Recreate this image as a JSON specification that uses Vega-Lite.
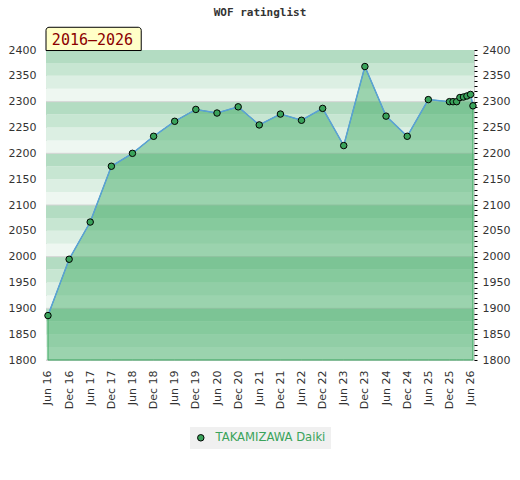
{
  "$schema": "https://vega.github.io/schema/vega-lite/v6.json",
  "description": "WOF ratinglist for TAKAMIZAWA Daiki, 2016-2026.",
  "autosize": {"type": "none"},
  "padding": {"left": 46, "top": 50, "right": 46, "bottom": 120},
  "width": 428,
  "height": 310,
  "title": {
    "text": "WOF ratinglist",
    "font": "DejaVu Sans Mono",
    "fontSize": 11,
    "fontWeight": "bold",
    "color": "#333",
    "offset": 9
  },
  "datasets": {
    "bands": [
      {"lo": 1800, "hi": 1825, "shade": 3}, {"lo": 1825, "hi": 1850, "shade": 2},
      {"lo": 1850, "hi": 1875, "shade": 1}, {"lo": 1875, "hi": 1900, "shade": 0},
      {"lo": 1900, "hi": 1925, "shade": 3}, {"lo": 1925, "hi": 1950, "shade": 2},
      {"lo": 1950, "hi": 1975, "shade": 1}, {"lo": 1975, "hi": 2000, "shade": 0},
      {"lo": 2000, "hi": 2025, "shade": 3}, {"lo": 2025, "hi": 2050, "shade": 2},
      {"lo": 2050, "hi": 2075, "shade": 1}, {"lo": 2075, "hi": 2100, "shade": 0},
      {"lo": 2100, "hi": 2125, "shade": 3}, {"lo": 2125, "hi": 2150, "shade": 2},
      {"lo": 2150, "hi": 2175, "shade": 1}, {"lo": 2175, "hi": 2200, "shade": 0},
      {"lo": 2200, "hi": 2225, "shade": 3}, {"lo": 2225, "hi": 2250, "shade": 2},
      {"lo": 2250, "hi": 2275, "shade": 1}, {"lo": 2275, "hi": 2300, "shade": 0},
      {"lo": 2300, "hi": 2325, "shade": 3}, {"lo": 2325, "hi": 2350, "shade": 2},
      {"lo": 2350, "hi": 2375, "shade": 1}, {"lo": 2375, "hi": 2400, "shade": 0}
    ],
    "ratings": [
      {"date": "2016-06-01", "rating": 1886, "player": "TAKAMIZAWA Daiki"},
      {"date": "2016-12-01", "rating": 1995, "player": "TAKAMIZAWA Daiki"},
      {"date": "2017-06-01", "rating": 2067, "player": "TAKAMIZAWA Daiki"},
      {"date": "2017-12-01", "rating": 2175, "player": "TAKAMIZAWA Daiki"},
      {"date": "2018-06-01", "rating": 2200, "player": "TAKAMIZAWA Daiki"},
      {"date": "2018-12-01", "rating": 2233, "player": "TAKAMIZAWA Daiki"},
      {"date": "2019-06-01", "rating": 2262, "player": "TAKAMIZAWA Daiki"},
      {"date": "2019-12-01", "rating": 2285, "player": "TAKAMIZAWA Daiki"},
      {"date": "2020-06-01", "rating": 2278, "player": "TAKAMIZAWA Daiki"},
      {"date": "2020-12-01", "rating": 2290, "player": "TAKAMIZAWA Daiki"},
      {"date": "2021-06-01", "rating": 2255, "player": "TAKAMIZAWA Daiki"},
      {"date": "2021-12-01", "rating": 2276, "player": "TAKAMIZAWA Daiki"},
      {"date": "2022-06-01", "rating": 2264, "player": "TAKAMIZAWA Daiki"},
      {"date": "2022-12-01", "rating": 2287, "player": "TAKAMIZAWA Daiki"},
      {"date": "2023-06-01", "rating": 2215, "player": "TAKAMIZAWA Daiki"},
      {"date": "2023-12-01", "rating": 2368, "player": "TAKAMIZAWA Daiki"},
      {"date": "2024-06-01", "rating": 2272, "player": "TAKAMIZAWA Daiki"},
      {"date": "2024-12-01", "rating": 2233, "player": "TAKAMIZAWA Daiki"},
      {"date": "2025-06-01", "rating": 2304, "player": "TAKAMIZAWA Daiki"},
      {"date": "2025-12-01", "rating": 2300, "player": "TAKAMIZAWA Daiki"},
      {"date": "2026-01-01", "rating": 2300, "player": "TAKAMIZAWA Daiki"},
      {"date": "2026-02-01", "rating": 2300, "player": "TAKAMIZAWA Daiki"},
      {"date": "2026-03-01", "rating": 2308, "player": "TAKAMIZAWA Daiki"},
      {"date": "2026-04-01", "rating": 2309, "player": "TAKAMIZAWA Daiki"},
      {"date": "2026-05-01", "rating": 2311, "player": "TAKAMIZAWA Daiki"},
      {"date": "2026-06-01", "rating": 2314, "player": "TAKAMIZAWA Daiki"},
      {"date": "2026-06-22", "rating": 2292, "player": "TAKAMIZAWA Daiki"}
    ],
    "span": [{"label": "2016–2026"}]
  },
  "resolve": {"axis": {"x": "independent", "y": "independent"}, "scale": {"color": "independent"}},
  "layer": [
    {
      "data": {"name": "bands"},
      "mark": {"type": "rect"},
      "encoding": {
        "y": {
          "field": "lo",
          "type": "quantitative",
          "scale": {"domain": [1800, 2400], "nice": false, "zero": false},
          "axis": {
            "orient": "left",
            "values": [1800, 1850, 1900, 1950, 2000, 2050, 2100, 2150, 2200, 2250, 2300, 2350, 2400],
            "format": "d",
            "title": null,
            "ticks": false,
            "domain": false,
            "grid": false,
            "labelPadding": 10,
            "labelFont": "DejaVu Sans",
            "labelFontSize": 11,
            "labelColor": "#333"
          }
        },
        "y2": {"field": "hi"},
        "color": {
          "field": "shade",
          "type": "ordinal",
          "scale": {"domain": [0, 1, 2, 3], "range": ["#b3dcc2", "#c7e6d2", "#dcefe3", "#eef7f1"]},
          "legend": null
        }
      }
    },
    {
      "data": {"name": "bands"},
      "transform": [{"filter": "datum.shade === 3"}],
      "mark": {"type": "rule", "color": "#d4d4d4", "strokeWidth": 1},
      "encoding": {
        "y": {"field": "lo", "type": "quantitative", "axis": null}
      }
    },
    {
      "data": {"name": "ratings"},
      "mark": {"type": "area", "color": "#3da962", "fillOpacity": 0.47, "stroke": "#3da962", "strokeWidth": 1},
      "encoding": {
        "x": {
          "field": "date",
          "type": "temporal",
          "scale": {"domain": [{"year": 2016, "month": 5, "date": 15, "utc": true}, {"year": 2026, "month": 7, "date": 1, "utc": true}]},
          "axis": {
            "values": [
              1464739200000, 1480550400000, 1496275200000, 1512086400000,
              1527811200000, 1543622400000, 1559347200000, 1575158400000,
              1590969600000, 1606780800000, 1622505600000, 1638316800000,
              1654041600000, 1669852800000, 1685577600000, 1701388800000,
              1717200000000, 1733011200000, 1748736000000, 1764547200000,
              1780272000000
            ],
            "format": "%b %y",
            "labelAngle": 270,
            "labelPadding": 10,
            "labelOverlap": false,
            "labelFont": "DejaVu Sans",
            "labelFontSize": 11,
            "labelColor": "#333",
            "tickSize": 0,
            "domain": false,
            "grid": false,
            "title": null
          }
        },
        "y": {"field": "rating", "type": "quantitative", "axis": null},
        "y2": {"datum": 1800}
      }
    },
    {
      "data": {"name": "ratings"},
      "mark": {"type": "line", "color": "#5aa0d8", "strokeWidth": 1.5},
      "encoding": {
        "x": {"field": "date", "type": "temporal", "axis": null},
        "y": {"field": "rating", "type": "quantitative", "axis": null}
      }
    },
    {
      "data": {"name": "ratings"},
      "mark": {"type": "point", "shape": "circle", "filled": true, "size": 42, "stroke": "black", "strokeWidth": 1, "opacity": 1},
      "encoding": {
        "x": {"field": "date", "type": "temporal", "axis": null},
        "y": {
          "field": "rating",
          "type": "quantitative",
          "axis": {
            "orient": "right",
            "values": [1800, 1810, 1820, 1830, 1840, 1850, 1860, 1870, 1880, 1890,
                       1900, 1910, 1920, 1930, 1940, 1950, 1960, 1970, 1980, 1990,
                       2000, 2010, 2020, 2030, 2040, 2050, 2060, 2070, 2080, 2090,
                       2100, 2110, 2120, 2130, 2140, 2150, 2160, 2170, 2180, 2190,
                       2200, 2210, 2220, 2230, 2240, 2250, 2260, 2270, 2280, 2290,
                       2300, 2310, 2320, 2330, 2340, 2350, 2360, 2370, 2380, 2390, 2400],
            "format": "d",
            "labelExpr": "datum.value % 50 === 0 ? datum.label : ''",
            "labelOverlap": false,
            "title": null,
            "domain": false,
            "grid": false,
            "tickSize": 3,
            "tickColor": "black",
            "labelPadding": 5,
            "labelFont": "DejaVu Sans",
            "labelFontSize": 11,
            "labelColor": "#333"
          }
        },
        "color": {
          "field": "player",
          "type": "nominal",
          "scale": {"range": ["#3aa35b"]},
          "legend": {
            "orient": "bottom",
            "title": null,
            "fillColor": "#f0f0f0",
            "padding": 5,
            "symbolType": "circle",
            "symbolSize": 42,
            "symbolStrokeColor": "black",
            "symbolStrokeWidth": 1,
            "labelColor": "#3aa35b",
            "labelFont": "DejaVu Sans",
            "labelFontSize": 11.6,
            "labelOffset": 9,
            "offset": 18
          }
        }
      }
    },
    {
      "data": {"name": "span"},
      "mark": {"type": "rect", "fill": "#ffffc8", "stroke": "black", "strokeWidth": 1, "cornerRadiusTopLeft": 3, "cornerRadiusTopRight": 3},
      "encoding": {
        "x": {"datum": {"year": 2016, "month": 5, "date": 15, "utc": true}, "type": "temporal", "axis": null},
        "x2": {"datum": {"year": 2018, "month": 8, "date": 16, "utc": true}},
        "y": {"datum": 2444, "type": "quantitative", "axis": null},
        "y2": {"datum": 2399}
      }
    },
    {
      "data": {"name": "span"},
      "mark": {"type": "text", "font": "DejaVu Sans Mono", "fontSize": 15, "color": "#8b0000", "align": "center", "baseline": "middle"},
      "encoding": {
        "x": {"datum": {"year": 2017, "month": 6, "date": 21, "utc": true}, "type": "temporal", "axis": null},
        "y": {"datum": 2420, "type": "quantitative", "axis": null},
        "text": {"field": "label"}
      }
    }
  ],
  "config": {
    "view": {"stroke": "#cccccc"},
    "legend": {"layout": {"bottom": {"anchor": "middle"}}}
  }
}
